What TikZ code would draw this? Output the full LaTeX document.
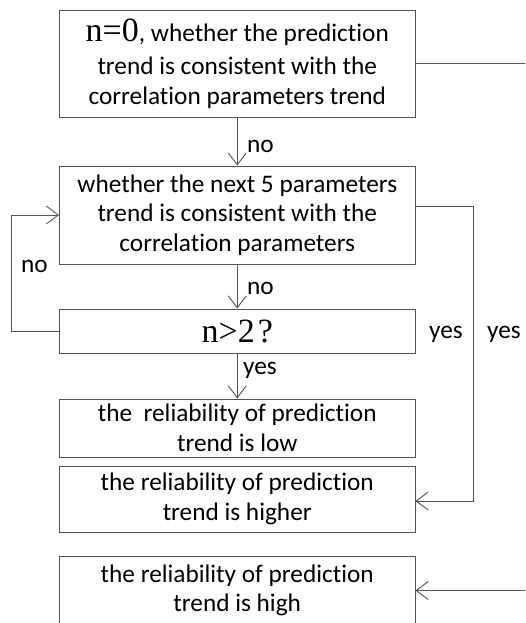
\documentclass[tikz,border=0pt]{standalone}
\usepackage{fontspec}
\setmainfont{Carlito}[Ligatures={NoCommon,NoContextual}]
\newfontfamily\tnrfont{Liberation Serif}
\usetikzlibrary{arrows.meta}
\definecolor{ln}{HTML}{555555}
\begin{document}
\begin{tikzpicture}[x=1pt,y=-1pt,
  box/.style={draw=ln,line width=0.9pt,rectangle,inner sep=0pt,minimum width=355.5pt,
    align=center,font=\fontsize{25.3}{29.5}\selectfont,text=black},
  lbl/.style={inner sep=0pt,anchor=base west,font=\fontsize{25.3}{29.5}\selectfont,text=black},
  conn/.style={draw=ln,line width=0.9pt},
  arr/.style={conn,-{Straight Barb[length=12pt,width=18pt]}}]
\useasboundingbox (0,0) rectangle (525,623);
\clip (0,0) rectangle (525,623);
\fill[white] (0,0) rectangle (525,623);
\node[box,minimum height=107pt] (b1) at (237.25,63.5)
  {{\tnrfont\fontsize{34}{34}\selectfont n=0}, whether the prediction\\[4pt]trend is consistent with the\\correlation parameters trend};
\node[box,minimum height=98pt] (b2) at (237.25,215)
  {whether the next 5 parameters\\trend is consistent with the\\correlation parameters};
\node[box,minimum height=44pt] (b3) at (237.25,331)
  {\tnrfont\fontsize{34}{34}\selectfont n>2\kern3pt?};
\node[box,minimum height=58pt] (b4) at (237.25,428)
  {the\ \ reliability of prediction\\trend is low};
\node[box,minimum height=66pt] (b5) at (237.25,499)
  {the reliability of prediction\\trend is higher};
\node[box,minimum height=69pt] (b6) at (237.25,590.5)
  {the reliability of prediction\\trend is high};
\coordinate (yesR) at (473,206);
\coordinate (loopL) at (11,0);
\coordinate (farR) at (530,0);
\draw[arr] (b1.south) -- (b2.north);
\draw[arr] (b2.south) -- (b3.north);
\draw[arr] (b3.south) -- (b4.north);
\draw[arr] (b3.west) -- (b3.west -| loopL) |- (b2.west);
\draw[arr] (b2.east |- yesR) -- (yesR) |- ([yshift=-2pt]b5.east);
\draw[conn] (b1.east) -- (b1.east -| farR);
\draw[arr] (b6.east -| farR) -- (b6.east);
\node[lbl] (no1) at (247,152) {no};
\node[lbl] (no2) at (247,294) {no};
\node[lbl] (no3) at (21,272) {no};
\node[lbl] (yes1) at (243,374) {yes};
\node[lbl] (yes2) at (429,338) {yes};
\node[lbl] (yes3) at (487,338) {yes};
\end{tikzpicture}
\end{document}
